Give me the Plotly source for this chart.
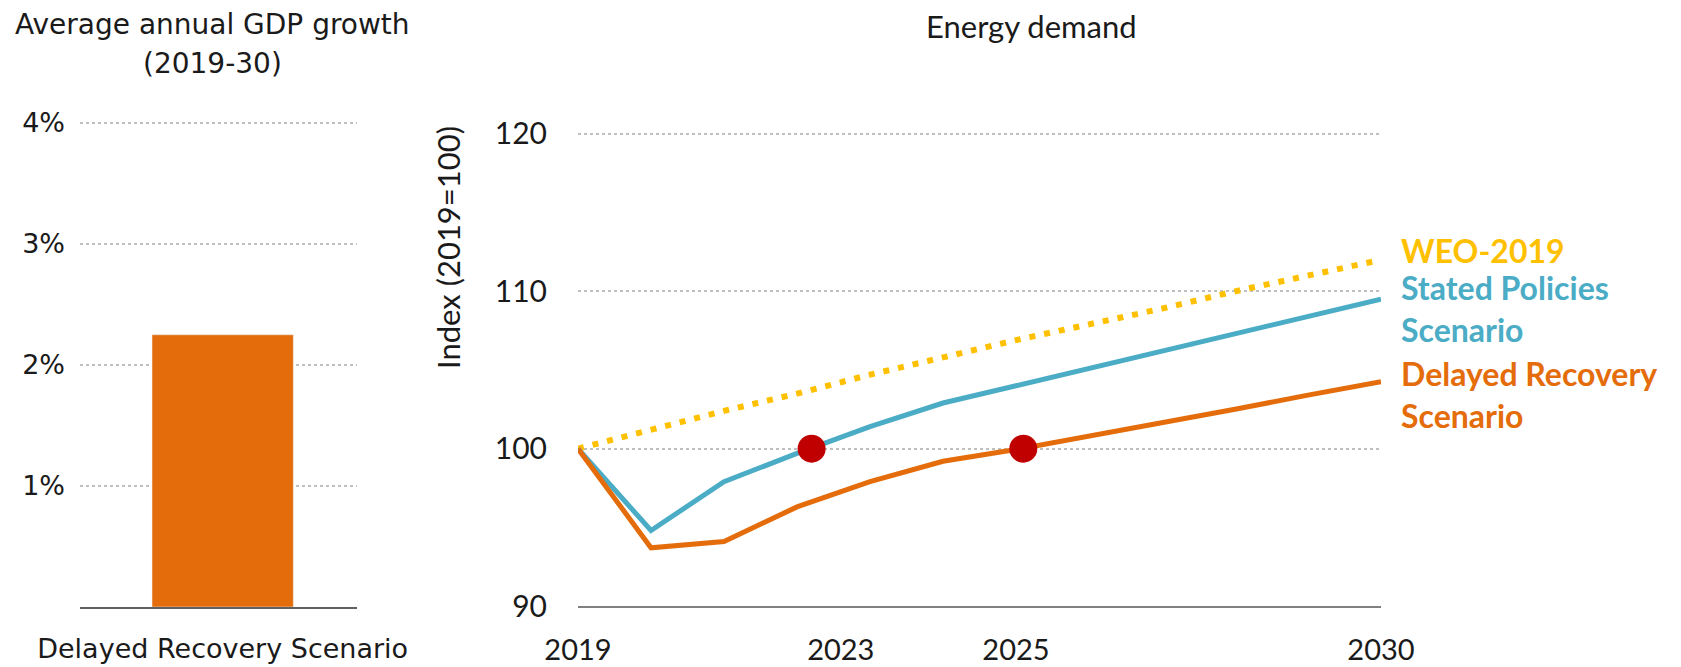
import plotly.graph_objects as go

# ---------------- data ----------------
gdp_categories = ["Delayed Recovery Scenario"]
gdp_growth = [2.25]  # % per year
gdp_ticks = [1, 2, 3, 4]
gdp_tick_labels = ["1%", "2%", "3%", "4%"]

years = list(range(2019, 2031))
weo_2019 = [100, 101.2, 102.4, 103.5, 104.7, 105.8, 106.9, 107.9, 108.9, 110.0, 111.0, 112.0]
stated_policies = [100, 94.8, 97.9, 99.7, 101.4, 102.9, 104.0, 105.1, 106.2, 107.3, 108.4, 109.5]
delayed_recovery = [100, 93.7, 94.1, 96.3, 97.9, 99.2, 99.95, 100.8, 101.6, 102.5, 103.4, 104.25]

# years when demand returns to 2019 level (crossing of 100)
recovery_x = [2022.2, 2025.1]
recovery_y = [100, 100]

year_tick_pos = [2019, 2022.6, 2025, 2030]
year_tick_labels = ["2019", "2023", "2025", "2030"]
index_ticks = [90, 100, 110, 120]

ORANGE = "#E46C0A"
BLUE = "#4BACC6"
YELLOW = "#FFC000"
RED = "#C00000"
GRID = "#BFBFBF"
AXIS = "#808080"
LEFT_FONT = "DejaVu Sans"
RIGHT_FONT = "Lato"

# page body has an 8px margin: the figure starts at (8, 8) of the window
OFF = 8
W, H = 1681 - 2 * OFF, 667 - OFF

fig = go.Figure()

fig.add_trace(go.Bar(
    x=gdp_categories, y=gdp_growth, marker_color=ORANGE, width=0.51,
    xaxis="x", yaxis="y", showlegend=False,
))

fig.add_trace(go.Scatter(
    x=years, y=weo_2019, mode="lines", line=dict(color=YELLOW, width=6, dash="6px,9px"),
    xaxis="x2", yaxis="y2", showlegend=False, cliponaxis=False,
))
fig.add_trace(go.Scatter(
    x=years, y=stated_policies, mode="lines", line=dict(color=BLUE, width=5),
    xaxis="x2", yaxis="y2", showlegend=False, cliponaxis=False,
))
fig.add_trace(go.Scatter(
    x=years, y=delayed_recovery, mode="lines", line=dict(color=ORANGE, width=5),
    xaxis="x2", yaxis="y2", showlegend=False, cliponaxis=False,
))
fig.add_trace(go.Scatter(
    x=recovery_x, y=recovery_y, mode="markers", marker=dict(color=RED, size=28, line=dict(width=0)),
    xaxis="x2", yaxis="y2", showlegend=False, cliponaxis=False,
))

def px_x(p):
    return (p - OFF) / W

def px_y(p):
    return 1 - (p - OFF) / H

fig.update_layout(
    width=W, height=H,
    margin=dict(l=0, r=0, t=0, b=0, pad=0),
    paper_bgcolor="white", plot_bgcolor="white",
    xaxis=dict(
        domain=[px_x(80), px_x(357)], range=[-0.515, 0.485], type="category",
        showgrid=False, showline=True, linecolor="#606060", linewidth=2,
        ticks="", ticklabelstandoff=17, automargin=False,
        tickfont=dict(family=LEFT_FONT, size=27, color="#1a1a1a"),
        zeroline=False,
    ),
    yaxis=dict(
        domain=[px_y(607), px_y(121.8)], range=[0, 4.01],
        tickvals=gdp_ticks, ticktext=gdp_tick_labels,
        showgrid=True, gridcolor=GRID, griddash="dot", gridwidth=2,
        zeroline=False, showline=False, ticks="", ticklabelstandoff=14, automargin=False,
        tickfont=dict(family=LEFT_FONT, size=27, color="#1a1a1a"),
    ),
    xaxis2=dict(
        domain=[px_x(578), px_x(1381)], range=[2019, 2030],
        tickvals=year_tick_pos, ticktext=year_tick_labels,
        showgrid=False, showline=True, linecolor=AXIS, linewidth=2,
        ticks="", ticklabelstandoff=17, zeroline=False, automargin=False,
        tickfont=dict(family=RIGHT_FONT, size=29, color="#1a1a1a"),
        anchor="y2",
    ),
    yaxis2=dict(
        domain=[px_y(606), px_y(132.4)], range=[90, 120.1],
        tickvals=index_ticks,
        showgrid=True, gridcolor=GRID, griddash="dot", gridwidth=2,
        zeroline=False, showline=False, ticks="", ticklabelstandoff=30, automargin=False,
        tickfont=dict(family=RIGHT_FONT, size=30, color="#1a1a1a"),
        anchor="x2",
    ),
)

annotations = [
    dict(text="Average annual GDP growth", x=px_x(212), y=px_y(25), font=dict(family=LEFT_FONT, size=28, color="#1a1a1a")),
    dict(text="(2019-30)", x=px_x(212), y=px_y(63), font=dict(family=LEFT_FONT, size=28, color="#1a1a1a")),
    dict(text="Energy demand", x=px_x(1031), y=px_y(26), font=dict(family=RIGHT_FONT, size=31, color="#1a1a1a")),
    dict(text="Index (2019=100)", x=px_x(448), y=px_y(248), textangle=-90, font=dict(family=RIGHT_FONT, size=31, color="#1a1a1a")),
    dict(text="<b>WEO-2019</b>", x=px_x(1399), y=px_y(250), xanchor="left", font=dict(family=RIGHT_FONT, size=32, color=YELLOW)),
    dict(text="<b>Stated Policies<br>Scenario</b>", x=px_x(1399), y=px_y(309), xanchor="left", align="left", font=dict(family=RIGHT_FONT, size=32, color=BLUE)),
    dict(text="<b>Delayed Recovery<br>Scenario</b>", x=px_x(1399), y=px_y(394), xanchor="left", align="left", font=dict(family=RIGHT_FONT, size=32, color=ORANGE)),
]
for a in annotations:
    a.setdefault("xanchor", "center")
    a.update(xref="paper", yref="paper", yanchor="middle", showarrow=False)
fig.update_layout(annotations=annotations)

fig.write_html("out.html", config={"displayModeBar": False})
